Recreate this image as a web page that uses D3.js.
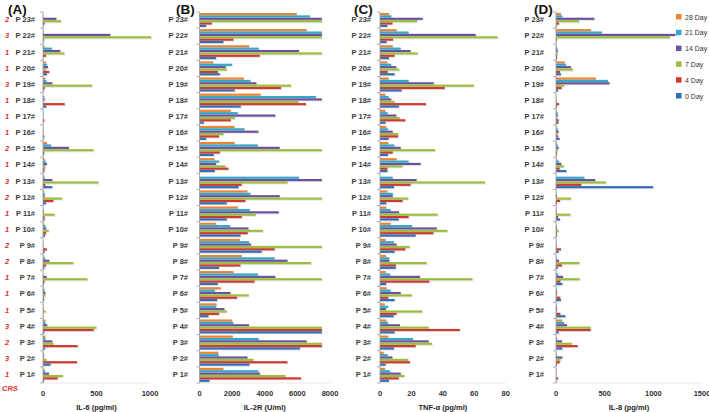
<!DOCTYPE html>
<html><head><meta charset="utf-8">
<script src="https://cdn.jsdelivr.net/npm/d3@7/dist/d3.min.js"></script>
<style>html,body{margin:0;padding:0;background:#fff;}svg{display:block;font-family:"Liberation Sans",Arial,sans-serif;}</style>
</head><body><svg id="c" width="709" height="412"></svg>
<script>
// Categories (P1..P23) and CRS grades
const categories = ["P 1#","P 2#","P 3#","P 4#","P 5#","P 6#","P 7#","P 8#","P 9#","P 10#","P 11#","P 12#","P 13#","P 14#","P 15#","P 16#","P 17#","P 18#","P 19#","P 20#","P 21#","P 22#","P 23#"];
const crsGrades = [1,3,2,3,1,1,1,2,2,1,1,2,3,1,2,1,1,1,3,1,1,3,2];
const seriesNames = ["28 Day","21 Day","14 Day","7 Day","4 Day","0 Day"];

// IL-6 (pg/ml)
const il6_d28 = [9,6,22,22,2,9,0,6,0,9,0,9,6,15,37,2,2,0,19,25,15,3,0];
const il6_d21 = [19,9,22,22,2,15,2,19,0,22,6,15,15,25,75,2,2,12,31,37,84,3,2];
const il6_d14 = [56,6,87,40,3,22,34,59,2,31,6,15,87,37,243,3,2,15,87,47,162,630,125];
const il6_d7  = [187,34,100,499,25,22,415,284,6,53,109,178,518,22,471,3,2,6,459,30,200,1010,168];
const il6_d4  = [137,318,324,474,3,9,15,28,37,28,15,97,22,15,12,12,12,203,16,59,28,8,15];
const il6_d0  = [10,69,19,12,3,9,9,12,15,19,15,28,87,12,6,3,2,31,6,37,3,3,3];

// IL-2R (U/ml)
const il2r_d28 = [1470,1140,2040,2000,1040,1305,2080,2590,2470,1020,2350,2940,0,918,2160,2140,1920,3750,2710,836,3040,6570,5960];
const il2r_d21 = [3610,1180,3630,2060,1020,938,3590,4610,3040,1880,3080,3120,6100,1200,3570,2750,2350,7140,3120,2000,3630,7500,6775];
const il2r_d14 = [3710,2940,6570,3040,1530,1900,4650,5400,3160,3000,4860,4920,7500,1020,4920,3610,4650,7500,3490,1610,6100,7500,7500];
const il2r_d7  = [5280,3300,7500,7500,1670,3020,7500,6830,7500,3880,3450,7500,5400,1590,7500,1470,2160,6060,5610,1670,7500,7500,7500];
const il2r_d4  = [6220,5390,7500,7500,1200,2300,3370,2510,4610,2960,2590,2815,2590,1775,1245,1200,1920,6530,5000,1120,3690,2080,755];
const il2r_d0  = [612,3060,6160,7500,550,1080,1120,1200,3815,2510,1670,1670,2390,938,877,408,265,2530,2160,1245,1020,1470,408];

// TNF-α (pg/ml)
const tnf_d28 = [3.2,2.3,5.3,4.0,3.0,4.2,3.6,3.8,3.6,6.8,4.0,4.7,0,10.6,5.3,4.0,3.4,3.4,5.5,4.7,8.1,10.6,5.7];
const tnf_d21 = [6.4,4.9,21.0,5.1,5.1,6.8,6.4,5.9,8.9,20.4,6.8,8.1,8.1,18.2,9.1,5.1,4.9,5.5,18.2,7.2,13.2,18.2,7.2];
const tnf_d14 = [13.2,7.9,31.0,12.7,3.8,13.2,25.5,6.0,10.6,36.1,12.1,8.1,23.3,25.9,13.2,8.1,10.4,7.2,34.2,10.4,19.5,60.9,27.2];
const tnf_d7  = [15.5,18.0,33.1,31.0,26.9,20.2,58.8,29.7,18.9,42.9,36.7,18.0,66.8,14.2,35.0,11.5,12.5,9.3,59.8,12.3,24.0,74.9,23.6];
const tnf_d4  = [11.9,19.1,22.7,50.9,10.6,5.3,31.4,10.2,16.1,34.0,18.2,14.4,19.5,4.7,8.1,11.5,16.1,29.3,41.2,4.9,9.3,8.3,7.9];
const tnf_d0  = [5.7,3.6,8.9,9.3,8.7,9.3,4.0,10.0,9.3,22.7,11.9,4.0,8.9,4.7,5.1,5.5,3.6,12.1,13.8,9.3,5.7,4.2,4.7];

// IL-8 (pg/ml)
const il8_d28 = [3,3,3,62,3,3,3,3,3,3,3,3,0,7,7,7,7,0,408,89,7,360,51];
const il8_d21 = [3,7,10,82,7,10,21,7,3,7,3,3,291,31,17,17,17,3,534,103,14,473,65];
const il8_d14 = [3,65,62,113,10,10,72,31,3,10,7,10,404,55,27,27,17,3,551,154,17,1226,394];
const il8_d7  = [3,45,164,356,10,10,243,240,10,27,147,154,514,79,17,17,14,7,82,175,17,1171,236];
const il8_d4  = [21,38,223,356,45,45,45,62,51,10,21,41,260,38,10,21,27,31,58,41,10,10,31];
const il8_d0  = [3,10,65,27,96,51,65,17,27,10,41,10,997,106,7,38,24,10,21,51,10,3,7];

// Axis ticks
const ticksA = [0,500,1000];
const ticksB = [0,2000,4000,6000,8000];
const ticksC = [0,20,40,60,80];
const ticksD = [0,500,1000,1500];

const colors = ["#EC8330","#33A8C8","#6B52A0","#9DBD3E","#CC3A30","#2F6DB6"];

const panels = [
  {letter:"(A)", title:"IL-6 (pg/ml)", max:1000, ticks:ticksA, x0:43, x1:150, labelEnd:35, letterX:8,
   data:[il6_d28,il6_d21,il6_d14,il6_d7,il6_d4,il6_d0]},
  {letter:"(B)", title:"IL-2R (U/ml)", max:8000, ticks:ticksB, x0:199.5, x1:330, labelEnd:188, letterX:176,
   data:[il2r_d28,il2r_d21,il2r_d14,il2r_d7,il2r_d4,il2r_d0]},
  {letter:"(C)", title:"TNF-α (pg/ml)", max:80, ticks:ticksC, x0:380, x1:505.7, labelEnd:371, letterX:354,
   data:[tnf_d28,tnf_d21,tnf_d14,tnf_d7,tnf_d4,tnf_d0]},
  {letter:"(D)", title:"IL-8 (pg/ml)", max:1500, ticks:ticksD, x0:556, x1:702, labelEnd:544, letterX:534,
   data:[il8_d28,il8_d21,il8_d14,il8_d7,il8_d4,il8_d0]}
];

const svg = d3.select("#c");
const yTop = 12, yBot = 383;
const y = d3.scaleBand().domain(categories.slice().reverse()).range([yTop, yBot]).paddingInner(0.12).paddingOuter(0.06);
const ys = d3.scaleBand().domain(seriesNames).range([0, y.bandwidth()]);

panels.forEach(p => {
  const g = svg.append("g");
  const x = d3.scaleLinear().domain([0, p.max]).range([p.x0, p.x1]);
  // panel letter
  g.append("text").attr("x", p.letterX).attr("y", 13.5).attr("font-size", 13.5).attr("font-weight", "bold").attr("fill", "#111").text(p.letter);
  // baseline
  g.append("line").attr("x1", p.x0).attr("x2", p.x1).attr("y1", yBot).attr("y2", yBot).attr("stroke", "#e2e2e2").attr("stroke-width", 0.8);
  // bars
  seriesNames.forEach((s, si) => {
    const vals = p.data[si];
    const gs = g.append("g");
    gs.selectAll("rect.sh").data(categories).join("rect").attr("class","sh")
      .attr("x", p.x0).attr("y", c => y(c) + ys(s) + 0.8)
      .attr("width", (c, i) => Math.max(0, x(vals[i]) - p.x0) + 0.8).attr("height", ys.bandwidth())
      .attr("fill", "#999").attr("opacity", 0.25);
    gs.selectAll("rect.b").data(categories).join("rect").attr("class","b")
      .attr("x", p.x0).attr("y", c => y(c) + ys(s))
      .attr("width", (c, i) => Math.max(0, x(vals[i]) - p.x0)).attr("height", ys.bandwidth() - 0.2)
      .attr("fill", colors[si]);
  });
  // y axis line
  g.append("line").attr("x1", p.x0).attr("x2", p.x0).attr("y1", yTop).attr("y2", yBot).attr("stroke", "#9a9a9a").attr("stroke-width", 0.8);
  // tick marks at band boundaries
  const bounds = categories.map(c => y(c) - y.step()*y.paddingInner()/2).concat([yBot]);
  g.selectAll("line.tk").data(bounds).join("line").attr("class","tk")
    .attr("x1", p.x0 - 3).attr("x2", p.x0).attr("y1", d => d).attr("y2", d => d)
    .attr("stroke", "#9a9a9a").attr("stroke-width", 0.8);
  // category labels
  g.selectAll("text.cat").data(categories).join("text").attr("class","cat")
    .attr("x", p.labelEnd).attr("y", c => y(c) + y.bandwidth()/2 + 2.2)
    .attr("text-anchor", "end").attr("font-size", 7.5).attr("font-weight", "bold").attr("fill", "#3a3a3a").text(c => c);
  // x tick labels
  g.selectAll("text.xt").data(p.ticks).join("text").attr("class","xt")
    .attr("x", d => x(d)).attr("y", 396).attr("text-anchor", "middle")
    .attr("font-size", 7.5).attr("font-weight", "bold").attr("fill", "#333").text(d => d);
  // axis title
  g.append("text").attr("x", (p.x0 + p.x1)/2).attr("y", 410).attr("text-anchor", "middle")
    .attr("font-size", 7.5).attr("font-weight", "bold").attr("fill", "#222").text(p.title);
});

// CRS grades
svg.selectAll("text.crs").data(categories).join("text").attr("class","crs")
  .attr("x", 7).attr("y", c => y(c) + y.bandwidth()/2 + 2.2).attr("text-anchor", "middle")
  .attr("font-size", 7.5).attr("font-style", "italic").attr("font-weight", "bold").attr("fill", "#E0302A")
  .text((c, i) => crsGrades[i]);
svg.append("text").attr("x", 2).attr("y", 391).attr("font-size", 7.5).attr("font-style", "italic").attr("font-weight", "bold").attr("fill", "#E0302A").text("CRS");

// Legend
const lg = svg.append("g");
seriesNames.forEach((s, i) => {
  const ly = 17 + i * 15.8;
  lg.append("rect").attr("x", 676).attr("y", ly - 3).attr("width", 5.5).attr("height", 5.5).attr("fill", colors[i]);
  lg.append("text").attr("x", 685).attr("y", ly + 2.5).attr("font-size", 7).attr("fill", "#333").text(s);
});
</script></body></html>
